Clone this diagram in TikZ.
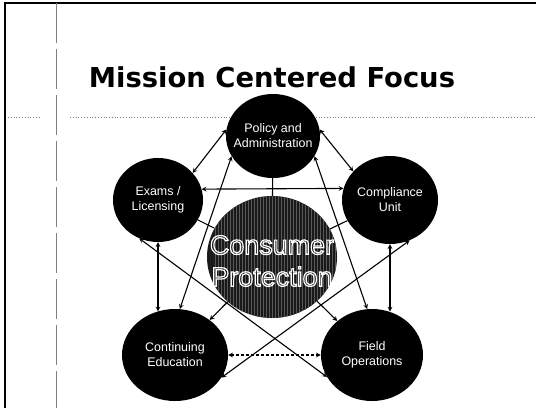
\documentclass[tikz,border=0pt]{standalone}
\usepackage{fontspec}
\setmainfont{Liberation Sans}
\newfontfamily\titlefont{DejaVu Sans}
\usetikzlibrary{shapes.geometric,patterns,arrows}

% hollow white letters on the hatched disc
\newcommand{\hollow}[1]{\special{pdf:literal direct 1 Tr 1.2 w}#1\special{pdf:literal direct 0 Tr}}

\begin{document}
\begin{tikzpicture}[x=1bp,y=-1bp,>=stealth,
	unit/.style={ellipse,fill=black,inner sep=0pt},
	unittext/.style={text=white,align=center,font=\fontsize{12.5}{15}\selectfont},
	link/.style={line width=1.1bp}]
\useasboundingbox (0,0) rectangle (536,408);

% slide frame
\draw[line width=2bp] (5,408) -- (5,3) -- (536,3);
\draw[gray,dash pattern=on 40bp off 6bp] (56,3) -- (56,408);
\draw[gray,dotted,line width=0.8bp] (8,117) -- (40,117) (70,117) -- (536,117);

\node[anchor=base,font=\titlefont\bfseries\fontsize{27.5}{30}\selectfont] (title) at (272,87) {Mission Centered Focus};

\foreach \n/\x/\y/\w/\h/\l in {policy/273/136/94/84/{Policy and\\Administration},exams/158/200/90/84/{Exams /\\Licensing},compliance/390/200/96/88/{Compliance\\Unit},contedu/175/355/106/92/{Continuing\\Education},field/372/355/102/92/{Field\\Operations}}
	\node[unit,minimum width=\w bp,minimum height=\h bp,label={[unittext]center:\l}] (\n) at (\x,\y) {};

\node[unit,minimum width=130bp,minimum height=122bp,fill=black!90,
	postaction={pattern=vertical lines,pattern color=white!35!black},
	label={[text=white,align=center,yshift=-4bp,font=\fontsize{27}{32}\selectfont]center:\hollow{Consumer}\\\hollow{Protection}}] (consumer) at (272,257) {};

\foreach \a/\b in {exams.38/policy.172,compliance.142/policy.8,exams.14/compliance.166,policy.206/contedu.84,policy.-26/field.96,exams.244/field.206,compliance.-64/contedu.-26}
	\draw[link,<->](\a)--(\b);
\draw[link,<->](exams.south)--(exams.south |- contedu.112);
\draw[link,<->](compliance.south)--(compliance.south |- field.68);
\draw[link,<->,densely dashed](contedu)--(field);

\foreach \b in {policy,exams,compliance}
	\draw[link](consumer)--(\b);
\foreach \b in {contedu,field}
	\draw[link,->](consumer)--(\b);
\end{tikzpicture}
\end{document}
